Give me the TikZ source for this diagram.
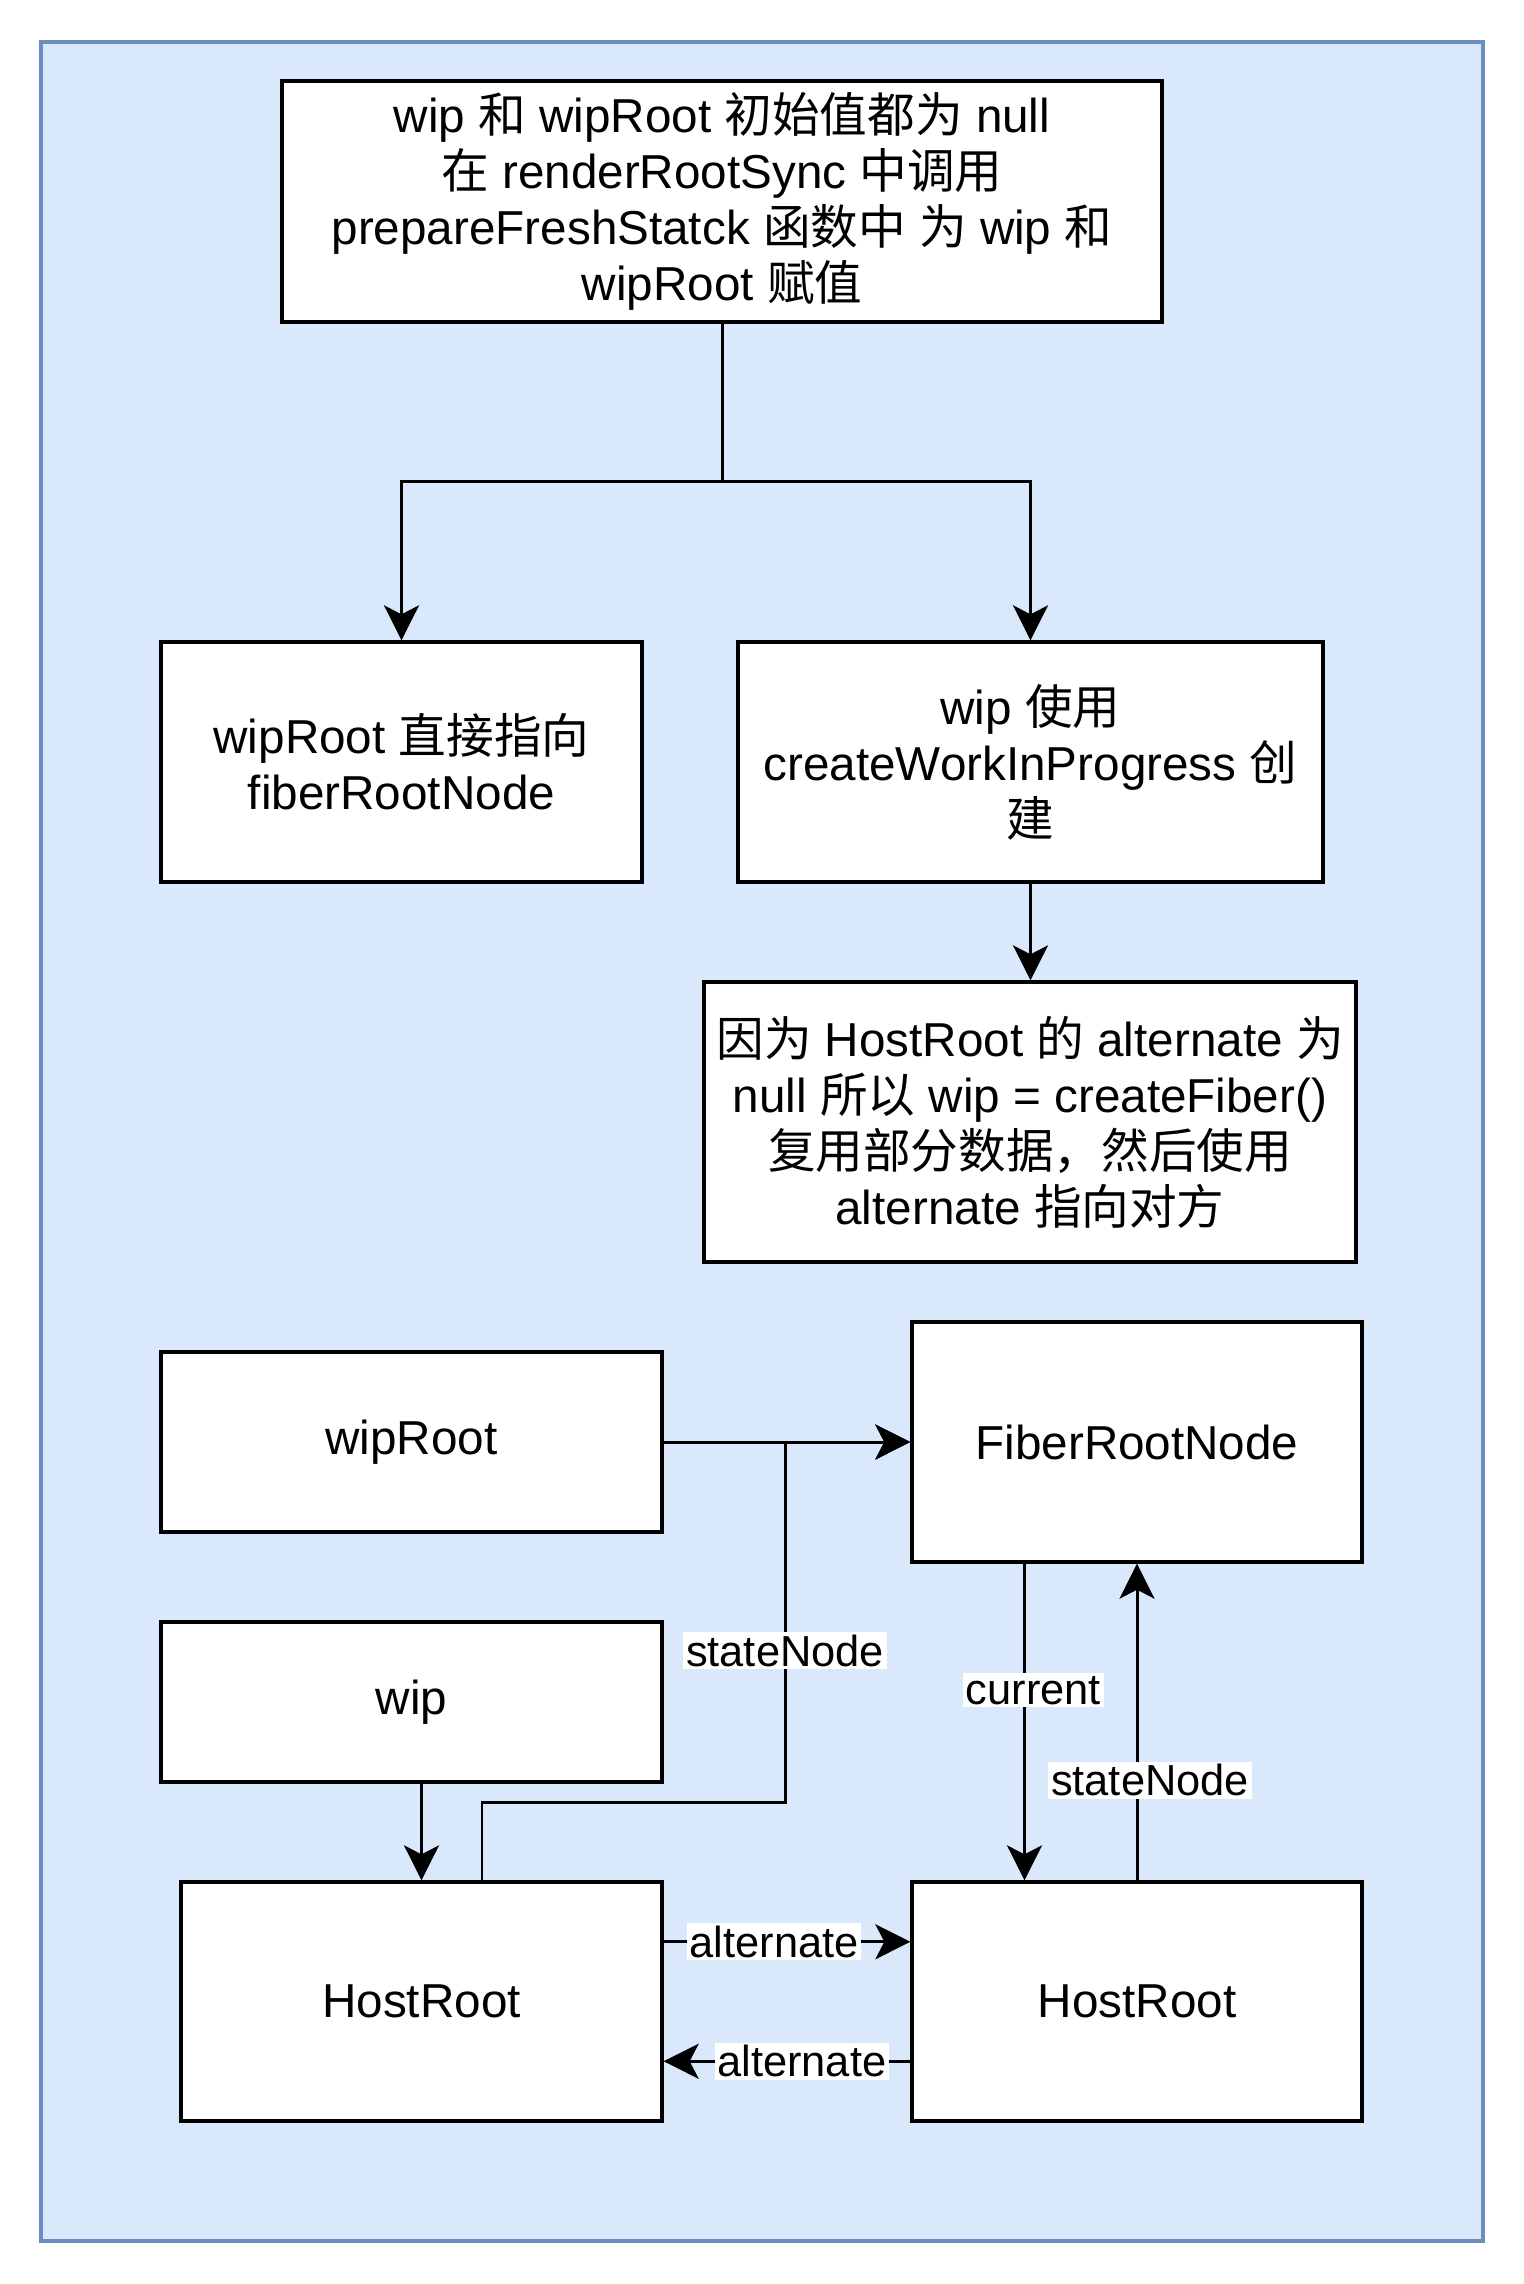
\documentclass[tikz,border=0pt]{standalone}
\usepackage{fontspec}
\setmainfont{Liberation Sans}
\newfontfamily\cjk{Noto Sans CJK SC}
\usepackage{tikz}
\usetikzlibrary{arrows.meta}
\usetikzlibrary{calc}

\definecolor{bgfill}{HTML}{DAE8FC}
\definecolor{bgline}{HTML}{6C8EBF}

\begin{document}
\begin{tikzpicture}[
	>={Stealth[length=0.7cm,width=0.7cm,inset=0.18cm]},
	box/.style={draw,fill=white,line width=1.9pt,align=center,inner sep=0pt,font=\fontsize{27.1}{31.9}\selectfont},
	link/.style={line width=1.7pt},
	lbl/.style={fill=white,inner sep=1.5pt,font=\fontsize{24.7}{29}\selectfont}]
	%\draw[style=help lines,gray!40] (0,-46)grid[step=1cm] (31,0);
	\useasboundingbox (0,0) rectangle (30.48,-45.68);
	\draw[fill=bgfill,draw=bgline,line width=1.8pt] (0.82,-0.84) rectangle (29.66,-44.82);

	\node[box,minimum width=17.6cm,minimum height=4.82cm] at (14.44,-4.03) (init) {wip {\cjk 和} wipRoot {\cjk 初始值都为} null\\{\cjk 在} renderRootSync {\cjk 中调用}\\prepareFreshStatck {\cjk 函数中} {\cjk 为} wip {\cjk 和}\\wipRoot {\cjk 赋值}};
	\node[box,minimum width=9.62cm,minimum height=4.8cm] at (8.03,-15.24) (wiproot_p) {wipRoot {\cjk 直接指向}\\fiberRootNode};
	\node[box,minimum width=11.7cm,minimum height=4.8cm] at (20.61,-15.24) (wip_p) {wip {\cjk 使用}\\createWorkInProgress {\cjk 创}\\{\cjk 建}};
	\node[box,minimum width=13.04cm,minimum height=5.6cm] at (20.6,-22.44) (alt_note) {{\cjk 因为} HostRoot {\cjk 的} alternate {\cjk 为}\\null {\cjk 所以} wip = createFiber()\\{\cjk 复用部分数据，然后使用}\\alternate {\cjk 指向对方}};

	\node[box,minimum width=10.02cm,minimum height=3.6cm] at (8.23,-28.84) (wiproot) {wipRoot};
	\node[box,minimum width=9cm,minimum height=4.8cm] at (22.74,-28.84) (frn) {FiberRootNode};
	\node[box,minimum width=10.02cm,minimum height=3.2cm] at (8.23,-34.04) (wip) {wip};
	\node[box,minimum width=9.62cm,minimum height=4.78cm] at (8.43,-40.03) (hr_wip) {HostRoot};
	\node[box,minimum width=9cm,minimum height=4.78cm] at (22.74,-40.03) (hr_cur) {HostRoot};

	\coordinate (split) at (14.44,-9.62);
	\draw[link] (init.south) -- (split);
	\draw[link,->] (split) -| (wiproot_p.north);
	\draw[link,->] (split) -| (wip_p.north);
	\draw[link,->] (wip_p.south) -- (wip_p.south |- alt_note.north);

	\draw[link,->] (wiproot.east) -- (frn.west);
	\coordinate (sn_bend) at (15.7,-36.04);
	\draw[link,->] ([xshift=1.21cm]hr_wip.north) |- (sn_bend) -- node[lbl,pos=0.42] {stateNode} (sn_bend |- frn.west) -- (frn.west);
	\draw[link,->] (hr_wip.north |- wip.south) -- (hr_wip.north);

	\draw[link,->] ([xshift=-2.25cm]frn.south) -- node[lbl,pos=0.4,xshift=0.18cm] {current} ([xshift=-2.25cm]hr_cur.north);
	\draw[link,->] (hr_cur.north) -- node[lbl,pos=0.316,xshift=0.26cm] {stateNode} (frn.south);

	\draw[link,->] ([yshift=1.195cm]hr_wip.east) -- node[lbl,pos=0.448] {alternate} ([yshift=1.195cm]hr_cur.west);
	\draw[link,->] ([yshift=-1.195cm]hr_cur.west) -- node[lbl,pos=0.44] {alternate} ([yshift=-1.195cm]hr_wip.east);
\end{tikzpicture}
\end{document}
